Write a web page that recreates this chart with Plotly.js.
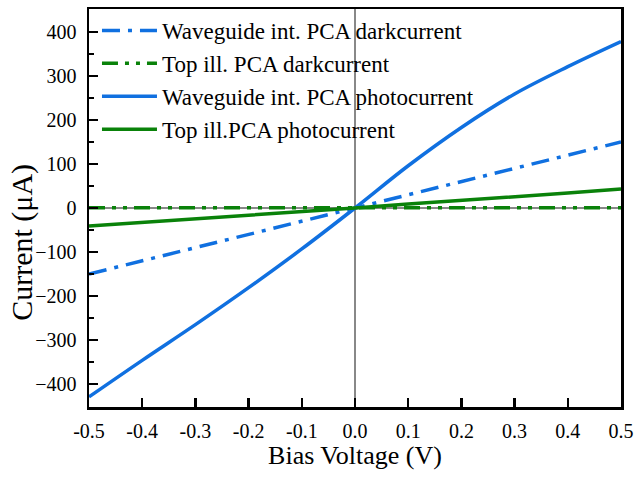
<!DOCTYPE html>
<html>
<head>
<meta charset="utf-8">
<script src="https://cdn.plot.ly/plotly-3.0.1.min.js"></script>
<style>html,body{margin:0;padding:0;background:#fff;}#chart{width:636px;height:479px;}</style>
</head>
<body>
<div id="chart"></div>
<script>
const voltage = [-0.5, -0.4, -0.3, -0.2, -0.1, 0.0, 0.1, 0.2, 0.3, 0.4, 0.5];
const wgDark = [-150, -120, -90, -60, -30, 0, 30, 60, 90, 120, 150];
const topDark = [0.5, 0.4, 0.3, 0.2, 0.1, 0, 0.1, 0.2, 0.3, 0.4, 0.5];
const wgPhoto = [-429, -346, -265, -181, -93, 0, 96, 183, 259, 321, 378];
const topPhoto = [-41, -33, -25, -17, -8, 0, 9, 17, 26, 34, 43];
const xTicks = [-0.5, -0.4, -0.3, -0.2, -0.1, 0.0, 0.1, 0.2, 0.3, 0.4, 0.5];
const xTickText = ['-0.5', '-0.4', '-0.3', '-0.2', '-0.1', '0.0', '0.1', '0.2', '0.3', '0.4', '0.5'];
const yTicks = [-400, -300, -200, -100, 0, 100, 200, 300, 400];
const xTitle = 'Bias Voltage (V)';
const yTitle = 'Current (μA)';

const blue = '#1070e0';
const green = '#0a820a';
const dashDot = '18px,8px,4px,8px';
const dashDotDot = '16px,7px,4px,7px,4px,7px';

const traces = [
  {x: voltage, y: wgDark, name: 'Waveguide int. PCA darkcurrent', mode: 'lines',
   line: {color: blue, width: 3.5, dash: dashDot}},
  {x: voltage, y: topDark, name: 'Top ill. PCA darkcurrent', mode: 'lines',
   line: {color: green, width: 3.5, dash: dashDotDot}},
  {x: voltage, y: wgPhoto, name: 'Waveguide int. PCA photocurrent', mode: 'lines',
   line: {color: blue, width: 3.5, shape: 'spline', smoothing: 1}},
  {x: voltage, y: topPhoto, name: 'Top ill.PCA photocurrent', mode: 'lines', line: {color: green, width: 3.5}}
];

const font = 'Liberation Serif, Times New Roman, serif';
const layout = {
  width: 636, height: 479,
  margin: {l: 89, r: 15, t: 9, b: 72},
  paper_bgcolor: '#fff', plot_bgcolor: '#fff',
  font: {family: font, color: '#000', size: 20},
  showlegend: true,
  legend: {x: 0.015, y: 1.0, xanchor: 'left', yanchor: 'top', bgcolor: 'rgba(0,0,0,0)',
           itemwidth: 55, font: {family: font, size: 23, color: '#000'}, tracegroupgap: 0},
  xaxis: {
    range: [-0.5, 0.5], tickvals: xTicks, ticktext: xTickText,
    ticks: 'inside', ticklen: 9, tickwidth: 2.5, tickcolor: '#000', ticklabelstandoff: 4,
    showline: true, linecolor: '#000', linewidth: 2.5, mirror: true,
    showgrid: false, zeroline: true, zerolinecolor: '#888', zerolinewidth: 1.5,
    tickfont: {family: font, size: 20, color: '#000'},
    title: {text: xTitle, font: {family: font, size: 26, color: '#000'}, standoff: 6}
  },
  yaxis: {
    range: [-452, 452], tickvals: yTicks,
    ticks: 'inside', ticklen: 9, tickwidth: 2.5, tickcolor: '#000', ticklabelstandoff: 6,
    minor: {dtick: 50, ticks: 'inside', ticklen: 5, tickwidth: 2.5, tickcolor: '#000', showgrid: false},
    showline: true, linecolor: '#000', linewidth: 2.5, mirror: true,
    showgrid: false, zeroline: true, zerolinecolor: '#888', zerolinewidth: 1.5,
    tickfont: {family: font, size: 20, color: '#000'},
    title: {text: ''}
  },
  annotations: [{
    text: yTitle, xref: 'paper', yref: 'paper', x: -0.126, y: 0.415,
    xanchor: 'center', yanchor: 'middle', textangle: -90, showarrow: false,
    font: {family: font, size: 30, color: '#000'}
  }]
};

Plotly.newPlot('chart', traces, layout, {displayModeBar: false, staticPlot: true});
</script>
</body>
</html>
